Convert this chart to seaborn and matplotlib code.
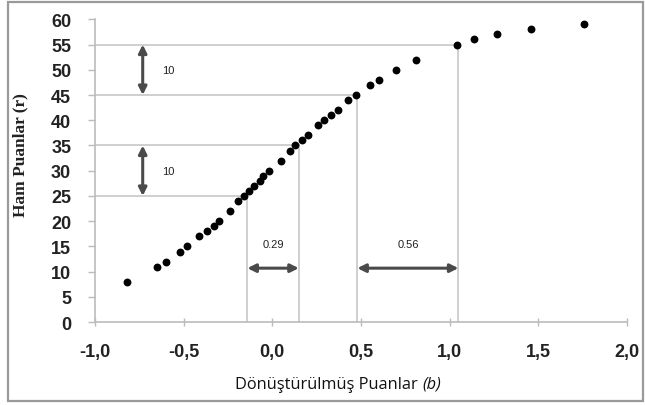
import matplotlib
matplotlib.use("Agg")
import matplotlib.pyplot as plt
from matplotlib.patches import Rectangle
import seaborn as sns
import pandas as pd

# Dönüştürülmüş puanlar (b) ve ham puanlar (r)
b_values = [-0.82, -0.65, -0.60, -0.52, -0.48, -0.41, -0.37, -0.33, -0.30,
            -0.24, -0.19, -0.16, -0.13, -0.10, -0.07, -0.05, -0.02, 0.05,
            0.10, 0.13, 0.17, 0.20, 0.26, 0.29, 0.33, 0.37, 0.43, 0.47,
            0.55, 0.60, 0.70, 0.81, 1.04, 1.14, 1.27, 1.46, 1.76]
r_values = [8, 11, 12, 14, 15, 17, 18, 19, 20,
            22, 24, 25, 26, 27, 28, 29, 30, 32,
            34, 35, 36, 37, 39, 40, 41, 42, 44, 45,
            47, 48, 50, 52, 55, 56, 57, 58, 59]

# Hilfslinien: r-Niveaus und zugehoerige b-Werte
guide_r = [25, 35, 45, 55]
guide_b = [-0.14, 0.15, 0.48, 1.05]

x_ticks = [-1.0, -0.5, 0.0, 0.5, 1.0, 1.5, 2.0]
x_tick_labels = ["-1,0", "-0,5", "0,0", "0,5", "1,0", "1,5", "2,0"]
y_ticks = list(range(0, 61, 5))

sns.set_theme(style="white")
plt.rcParams["font.family"] = ["Liberation Sans", "DejaVu Sans"]

df = pd.DataFrame({"b": b_values, "r": r_values})

fig = plt.figure(figsize=(6.45, 4.06), dpi=100)
ax = fig.add_axes([0.147, 0.204, 0.825, 0.746])

grid_color = "#cfcfcf"
for rv, bv in zip(guide_r, guide_b):
    ax.plot([-1.0, bv], [rv, rv], color=grid_color, lw=1.4, zorder=1)
    ax.plot([bv, bv], [0, rv], color=grid_color, lw=1.4, zorder=1)

sns.scatterplot(data=df, x="b", y="r", ax=ax, color="black", marker="o",
                s=32, edgecolor="black", linewidth=0, zorder=3)

arrow_kw = dict(arrowstyle="<|-|>", color="#4a4a4a", lw=2.2,
                mutation_scale=12, shrinkA=0, shrinkB=0)
# vertikale Pfeile (10 Punkte)
for lo, hi in [(45, 55), (25, 35)]:
    ax.annotate("", xy=(-0.73, hi), xytext=(-0.73, lo), arrowprops=arrow_kw)
    ax.text(-0.62, (lo + hi) / 2, "10", fontsize=8, ha="left", va="center",
            color="#222222")
# horizontale Pfeile
for (b0, b1), lab in zip([(guide_b[0], guide_b[1]), (guide_b[2], guide_b[3])],
                         ["0.29", "0.56"]):
    ax.annotate("", xy=(b1, 10.7), xytext=(b0, 10.7), arrowprops=arrow_kw)
    ax.text((b0 + b1) / 2, 15.5, lab, fontsize=8, ha="center", va="center",
            color="#222222")

ax.set_xlim(-1.0, 2.0)
ax.set_ylim(0, 60)
ax.set_xticks(x_ticks)
ax.set_xticklabels(x_tick_labels)
ax.set_yticks(y_ticks)
ax.set_xlabel("")
ax.set_ylabel("")

for lab in ax.get_xticklabels() + ax.get_yticklabels():
    lab.set_fontweight("bold")
    lab.set_fontsize(13)
    lab.set_color("#222222")

ax.tick_params(axis="x", direction="inout", length=6, width=1, color="#bbbbbb", pad=12)
ax.tick_params(axis="y", direction="out", length=5, width=1, color="#bbbbbb", pad=12)
ax.tick_params(bottom=True, left=True)

for side in ["top", "right"]:
    ax.spines[side].set_visible(False)
for side in ["left", "bottom"]:
    ax.spines[side].set_color("#bbbbbb")
    ax.spines[side].set_linewidth(1.2)

fig.text(20 / 645, 1 - 155 / 406, "Ham Puanlar (r)", rotation=90,
         ha="center", va="center", fontsize=12.5, fontweight="bold",
         family=["Liberation Serif", "DejaVu Serif"], color="#222222")

fig.text(418 / 645, 1 - 385 / 406, "Dönüştürülmüş Puanlar", ha="right",
         va="center", fontsize=11.8, family=["Open Sans", "DejaVu Sans"], color="#111111")
fig.text(422 / 645, 1 - 385 / 406, "(b)", ha="left", va="center",
         fontsize=11.8, style="italic", family=["Open Sans", "DejaVu Sans"], color="#111111")

fig.patches.append(Rectangle((8 / 645, 4 / 406), 635 / 645, 399 / 406,
                             transform=fig.transFigure, fill=False,
                             edgecolor="#9a9a9a", lw=1.6))

plt.savefig("out.png", dpi=100)
plt.close()
